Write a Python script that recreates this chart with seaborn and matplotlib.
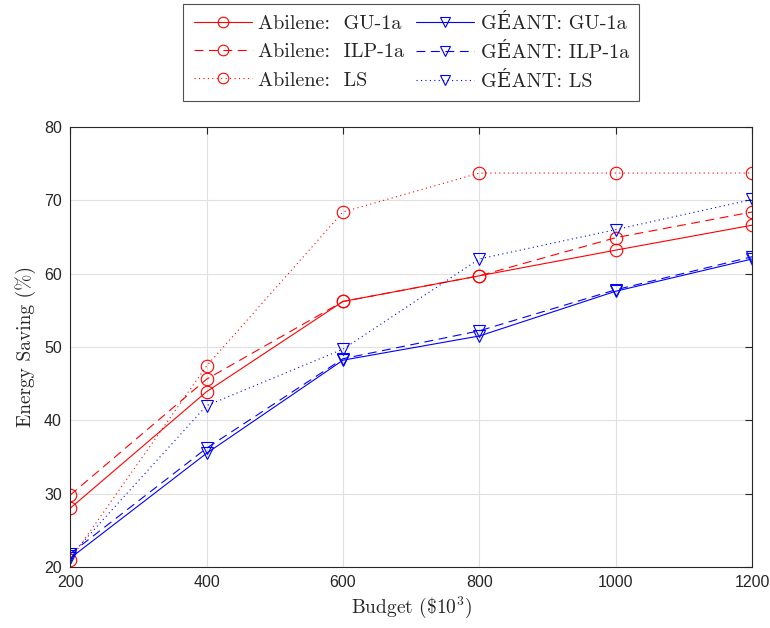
import matplotlib
matplotlib.use("Agg")
import matplotlib.pyplot as plt
import seaborn as sns
import pandas as pd

budget = [200, 400, 600, 800, 1000, 1200]
abilene_gu = [28.0, 43.9, 56.2, 59.7, 63.2, 66.6]
abilene_ilp = [29.8, 45.6, 56.2, 59.7, 64.9, 68.4]
abilene_ls = [21.0, 47.4, 68.4, 73.7, 73.7, 73.7]
geant_gu = [21.2, 35.5, 48.2, 51.5, 57.6, 62.0]
geant_ilp = [21.8, 36.2, 48.4, 52.2, 57.8, 62.3]
geant_ls = [21.5, 42.0, 49.7, 62.0, 66.0, 70.1]

labels = ["Abilene:  GU-1a", "Abilene:  ILP-1a", "Abilene:  LS",
          "GÉANT: GU-1a", "GÉANT: ILP-1a", "GÉANT: LS"]
series = [abilene_gu, abilene_ilp, abilene_ls, geant_gu, geant_ilp, geant_ls]

sns.set_style("white")
plt.rcParams["mathtext.fontset"] = "cm"
plt.rcParams["axes.unicode_minus"] = False

fig = plt.figure(figsize=(7.7, 6.28), dpi=100)
ax = fig.add_axes([0.091, 0.097, 0.886, 0.701])

colors = ["#ff0000"] * 3 + ["#0000ff"] * 3
markers = ["o"] * 3 + ["v"] * 3
styles = ["-", (0, (8, 5)), (0, (1, 3))] * 2

for vals, lab, c, m, ls in zip(series, labels, colors, markers, styles):
    df = pd.DataFrame({"x": budget, "y": vals})
    sns.lineplot(data=df, x="x", y="y", ax=ax, color=c, marker=m, linestyle=ls,
                 linewidth=0.8, markersize=9, markerfacecolor="none",
                 markeredgecolor=c, markeredgewidth=0.8, label=lab)

ax.set_xlim(200, 1200)
ax.set_ylim(20, 80)
ax.set_xticks(budget)
ax.set_yticks(range(20, 81, 10))
ax.grid(True, color="#e0e0e0", linewidth=0.8)
ax.set_axisbelow(True)
for s in ax.spines.values():
    s.set_color("#262626")
    s.set_linewidth(0.8)
ax.tick_params(direction="in", length=5, width=0.8, color="#262626",
               top=True, right=True, labelsize=11.5, labelcolor="#262626", pad=6)
for t in ax.get_xticklabels() + ax.get_yticklabels():
    t.set_fontfamily("Liberation Sans")

ax.set_xlabel(r"Budget (\$10$^3$)", fontfamily="cmr10", fontsize=14, color="#262626", labelpad=3)
ax.set_ylabel("Energy Saving (%)", fontfamily="cmr10", fontsize=14, color="#262626", labelpad=6)

leg = ax.legend(loc="lower center", bbox_to_anchor=(0.5, 1.035), ncol=2,
                prop={"family": ["cmr10", "DejaVu Serif"], "size": 14.5}, frameon=True,
                fancybox=False, edgecolor="#262626", handlelength=2.9, columnspacing=0.6,
                handletextpad=0.3, borderpad=0.5, labelspacing=0.5, markerscale=0.85)
leg.get_frame().set_linewidth(0.8)

fig.savefig("out.png", dpi=100)
